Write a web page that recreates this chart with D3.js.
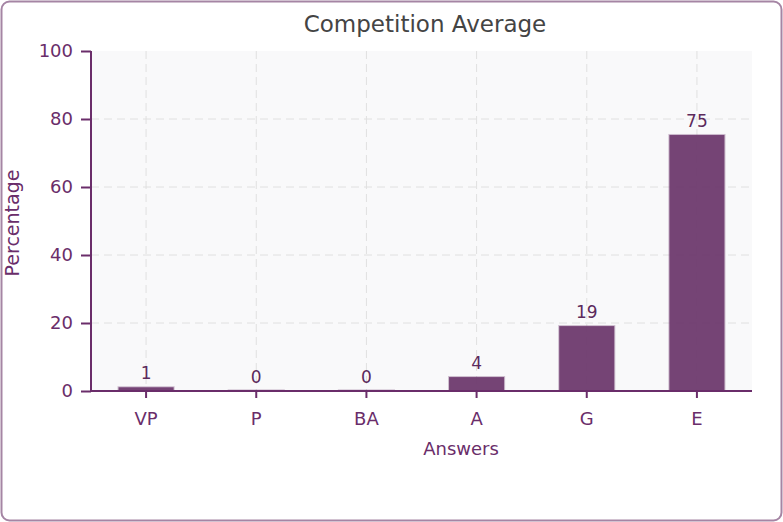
<!DOCTYPE html>
<html><head><meta charset="utf-8">
<script src="https://cdn.jsdelivr.net/npm/d3@7"></script>
<style>body{margin:0;background:#fff;}svg{display:block;font-family:"DejaVu Sans",Verdana,sans-serif;}</style>
</head><body><svg id="c" width="783" height="522"></svg>
<script>
const categories = ["VP","P","BA","A","G","E"];
const values = [1.1, 0, 0, 4.1, 19.1, 75.3];
const labels = ["1","0","0","4","19","75"];
const yTicks = [0,20,40,60,80,100];
const titleText = "Competition Average";
const xTitle = "Answers";
const yTitle = "Percentage";

const svg = d3.select("#c");
const m = {l:91, r:752, t:51, b:391};
const purple = "#6a2d6a";

svg.append("rect").attr("x",1.5).attr("y",1.5).attr("width",780).attr("height",519)
  .attr("rx",8).attr("fill","#fff").attr("stroke","#a585a4").attr("stroke-width",2);

const x = d3.scaleBand().domain(categories).range([m.l, m.r]).paddingInner(0.5).paddingOuter(0.25);
const y = d3.scaleLinear().domain([0,100]).range([m.b, m.t]);

svg.append("rect").attr("x",m.l).attr("y",m.t).attr("width",m.r-m.l).attr("height",m.b-m.t).attr("fill","#f9f9fa");

// grid
svg.append("g").selectAll("line").data(yTicks.filter(d=>d>0 && d<100)).join("line")
  .attr("x1",m.l).attr("x2",m.r).attr("y1",d=>y(d)).attr("y2",d=>y(d))
  .attr("stroke","#e0e0e0").attr("stroke-dasharray","8,5").attr("stroke-width",1);
svg.append("g").selectAll("line").data(categories).join("line")
  .attr("x1",d=>x(d)+x.bandwidth()/2).attr("x2",d=>x(d)+x.bandwidth()/2).attr("y1",m.t).attr("y2",m.b)
  .attr("stroke","#e0e0e0").attr("stroke-dasharray","8,5").attr("stroke-width",1);

// bars
svg.append("g").selectAll("rect").data(values).join("rect")
  .attr("x",(d,i)=>x(categories[i])).attr("width",x.bandwidth())
  .attr("y",d=>Math.min(y(d), m.b-1)).attr("height",d=>Math.max(m.b-y(d),1))
  .attr("fill","#6e3a6e").attr("fill-opacity",d=>d>0?0.95:0.15)
  .attr("stroke","#7a4a7a").attr("stroke-opacity",d=>d>0?0.35:0.2).attr("stroke-width",2);

svg.append("g").selectAll("text").data(values).join("text")
  .attr("x",(d,i)=>x(categories[i])+x.bandwidth()/2).attr("y",d=>y(d)-8)
  .attr("text-anchor","middle").attr("font-size",17).attr("fill","#5c2a5c")
  .text((d,i)=>labels[i]);

// axes
const ya = svg.append("g").attr("transform",`translate(${m.l},0)`)
  .call(d3.axisLeft(y).tickValues(yTicks).tickSize(10).tickPadding(8));
ya.select(".domain").attr("stroke",purple).attr("stroke-width",2).attr("d",`M0,${m.t}V${m.b}`);
ya.selectAll(".tick line").attr("stroke",purple).attr("stroke-width",2);
ya.selectAll(".tick text").attr("fill",purple).attr("font-size",18).attr("font-family","DejaVu Sans");

const xa = svg.append("g").attr("transform",`translate(0,${m.b})`)
  .call(d3.axisBottom(x).tickSize(7).tickPadding(14));
xa.select(".domain").attr("stroke",purple).attr("stroke-width",2).attr("d",`M${m.l},0H${m.r}`);
xa.selectAll(".tick line").attr("stroke",purple).attr("stroke-width",2);
xa.selectAll(".tick text").attr("fill",purple).attr("font-size",18).attr("font-family","DejaVu Sans");

svg.append("text").attr("x",425).attr("y",32).attr("text-anchor","middle")
  .attr("font-size",23).attr("fill","#444").text(titleText);
svg.append("text").attr("x",461).attr("y",455).attr("text-anchor","middle")
  .attr("font-size",18).attr("fill",purple).text(xTitle);
svg.append("text").attr("transform","translate(19,223) rotate(-90)").attr("text-anchor","middle")
  .attr("font-size",19).attr("fill",purple).text(yTitle);
</script></body></html>
